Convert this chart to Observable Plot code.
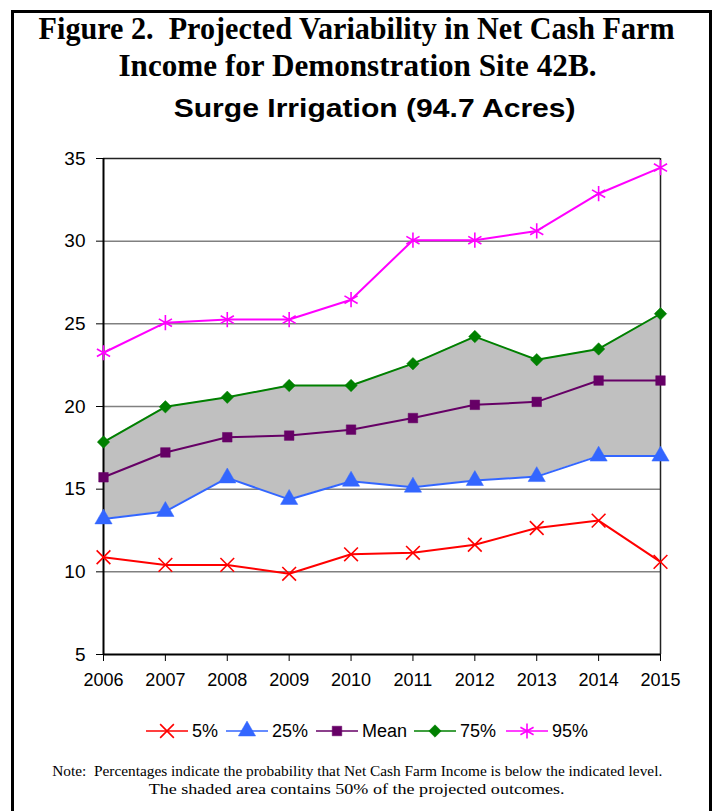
<!DOCTYPE html>
<html>
<head>
<meta charset="utf-8">
<script src="https://cdn.jsdelivr.net/npm/d3@7"></script>
<script src="https://cdn.jsdelivr.net/npm/@observablehq/plot@0.6"></script>
<style>
  html, body { margin: 0; padding: 0; background: #fff; }
  #root { position: relative; width: 714px; height: 811px; overflow: hidden; background: #fff; }
  #frame { position: absolute; left: 11px; top: 10px; width: 695px; height: 820px; border: 3px solid #000; box-sizing: content-box; }
  .line { position: absolute; left: 0; width: 714px; text-align: center; white-space: nowrap; }
  .fit { display: inline-block; transform-origin: center center; }
  .t1 { font-family: "Liberation Serif", "Times New Roman", serif; font-weight: bold; font-size: 32px; color: #000; }
  .sub { font-family: "Liberation Sans", Arial, sans-serif; font-weight: bold; font-size: 26px; color: #000; }
  .note { font-family: "Liberation Serif", "Times New Roman", serif; font-size: 15px; color: #000; }
  #chart { position: absolute; left: 0; top: 0; }
  #legend { position: absolute; top: 719px; left: 0; width: 714px; height: 24px; }
  .item { position: absolute; top: 0; height: 24px; display: flex; align-items: center; font-family: "Liberation Sans", Arial, sans-serif; font-size: 18px; color: #000; }
  .item svg { display: block; margin-right: 4px; }
</style>
</head>
<body>
<div id="root">
  <div id="frame"></div>
  <div class="line" style="top:10px;"><span class="fit t1" data-w="636">Figure 2.&nbsp; Projected Variability in Net Cash Farm</span></div>
  <div class="line" style="top:47px;"><span class="fit t1" data-w="478">Income for Demonstration Site 42B.</span></div>
  <div class="line" style="top:93px; left:18px;"><span class="fit sub" data-w="402">Surge Irrigation (94.7 Acres)</span></div>
  <div id="chart"></div>
  <div id="legend"></div>
  <div class="line" style="top:762px;"><span class="fit note" data-w="610">Note:&nbsp; Percentages indicate the probability that Net Cash Farm Income is below the indicated level.</span></div>
  <div class="line" style="top:780px;"><span class="fit note" data-w="416">The shaded area contains 50% of the projected outcomes.</span></div>
</div>
<script>
// ---- data ----
const years = [2006, 2007, 2008, 2009, 2010, 2011, 2012, 2013, 2014, 2015];
const p05  = [10.88, 10.42, 10.42, 9.88, 11.06, 11.15, 11.64, 12.65, 13.10, 10.60];
const p25  = [13.20, 13.65, 15.68, 14.38, 15.48, 15.12, 15.52, 15.76, 17.00, 17.00];
const mean = [15.72, 17.22, 18.14, 18.24, 18.60, 19.30, 20.10, 20.28, 21.57, 21.57];
const p75  = [17.85, 19.98, 20.56, 21.27, 21.27, 22.59, 24.23, 22.83, 23.48, 25.61];
const p95  = [23.25, 25.07, 25.26, 25.26, 26.46, 30.06, 30.06, 30.62, 32.87, 34.45];
const yTicks = [5, 10, 15, 20, 25, 30, 35];
const gridTicks = [10, 15, 20, 25, 30];
const seriesNames = ["5%", "25%", "Mean", "75%", "95%"];
const seriesColors = ["#ff0000", "#3366ff", "#660066", "#008000", "#ff00ff"];
const seriesSymbols = ["times", "triangle", "square", "diamond2", "asterisk"];

const seriesValues = [p05, p25, mean, p75, p95];
const rows = [];
seriesNames.forEach((name, i) => {
  years.forEach((yr, j) => rows.push({series: name, year: yr, value: seriesValues[i][j]}));
});
const band = years.map((yr, j) => ({year: yr, lo: p25[j], hi: p75[j]}));

const markStyle = {
  "5%":   {r: 6.3, fill: "none", stroke: "#ff0000", sw: 1.6},
  "25%":  {r: 6.4, fill: "#3366ff", stroke: "#3366ff", sw: 0.5},
  "Mean": {r: 5.4, fill: "#660066", stroke: "#660066", sw: 0.5},
  "75%":  {r: 5.6, fill: "#008000", stroke: "#008000", sw: 0.5},
  "95%":  {r: 7.2, fill: "none", stroke: "#ff00ff", sw: 1.6}
};

const marks = [
  Plot.ruleY(gridTicks, {stroke: "#808080", strokeWidth: 1.5}),
  Plot.areaY(band, {x: "year", y1: "lo", y2: "hi", fill: "#c0c0c0"}),
  Plot.ruleY([35], {stroke: "#222", strokeWidth: 1.5}),
  Plot.ruleX([2015], {stroke: "#222", strokeWidth: 1.5}),
  Plot.ruleX([2006], {stroke: "#000", strokeWidth: 2}),
  Plot.ruleY([5], {stroke: "#000", strokeWidth: 2}),
  Plot.axisY({ticks: yTicks, tickSize: 7, tickPadding: 11, tickFormat: d => String(d), fontSize: 19}),
  Plot.axisX({ticks: years, tickSize: 7, tickPadding: 12, tickFormat: d => String(d), fontSize: 18})
];
seriesNames.forEach((name, i) => {
  const data = rows.filter(d => d.series === name);
  marks.push(Plot.line(data, {x: "year", y: "value", stroke: seriesColors[i], strokeWidth: 2}));
});
seriesNames.forEach((name, i) => {
  const data = rows.filter(d => d.series === name);
  const s = markStyle[name];
  marks.push(Plot.dot(data, {x: "year", y: "value", symbol: () => seriesSymbols[i], r: s.r, fill: s.fill, stroke: s.stroke, strokeWidth: s.sw}));
});

const chart = Plot.plot({
  width: 714,
  height: 700,
  marginLeft: 103,
  marginRight: 54,
  marginTop: 158,
  marginBottom: 46,
  style: {fontFamily: "'Liberation Sans', Arial, sans-serif", fontSize: "18px", color: "#000", background: "transparent", overflow: "visible"},
  x: {type: "linear", domain: [2006, 2015], label: null},
  y: {domain: [5, 35], label: null},
  symbol: {type: "identity"},
  marks
});
document.getElementById("chart").appendChild(chart);

// ---- legend ----
const legend = document.getElementById("legend");
const legendLeft = [146, 226, 316, 414, 506];
const symbolFns = [d3.symbolTimes, d3.symbolTriangle, d3.symbolSquare, d3.symbolDiamond2, d3.symbolAsterisk];
seriesNames.forEach((name, i) => {
  const s = markStyle[name];
  const item = document.createElement("div");
  item.className = "item";
  item.style.left = legendLeft[i] + "px";
  const svg = d3.create("svg").attr("width", 42).attr("height", 20);
  svg.append("line").attr("x1", 0).attr("x2", 42).attr("y1", 10).attr("y2", 10)
    .attr("stroke", seriesColors[i]).attr("stroke-width", 1.6);
  svg.append("path").attr("transform", "translate(21,10)")
    .attr("d", d3.symbol(symbolFns[i], Math.PI * s.r * s.r)())
    .attr("fill", s.fill).attr("stroke", s.stroke).attr("stroke-width", s.sw);
  item.appendChild(svg.node());
  const lab = document.createElement("span");
  lab.textContent = name;
  item.appendChild(lab);
  legend.appendChild(item);
});

// ---- fit text widths ----
document.querySelectorAll(".fit").forEach(el => {
  const target = +el.dataset.w;
  const w = el.getBoundingClientRect().width;
  if (w > 0) el.style.transform = `scaleX(${target / w})`;
});
</script>
</body>
</html>
